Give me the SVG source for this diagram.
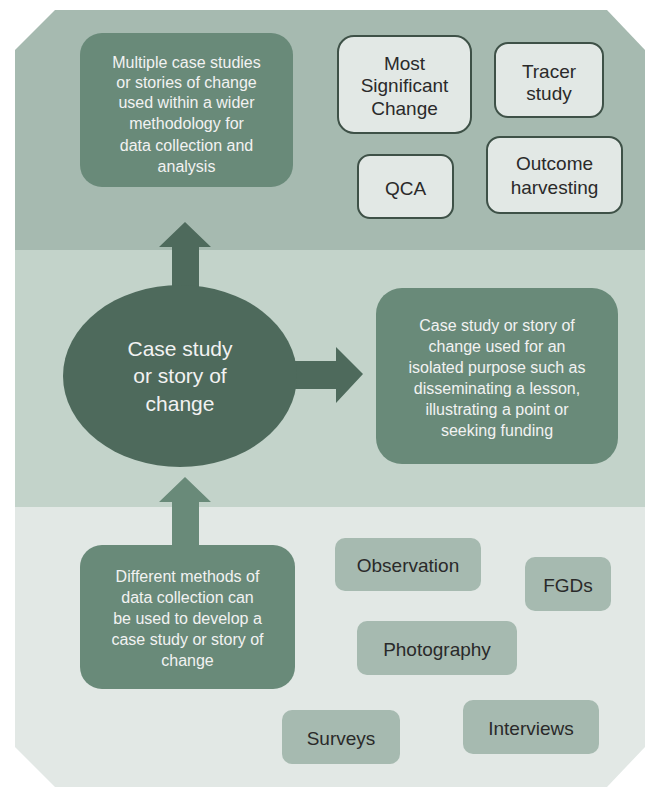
<svg xmlns="http://www.w3.org/2000/svg" width="650" height="787" viewBox="0 0 650 787">
<style>
.band-top{fill:#a6bab0}
.band-mid{fill:#c3d3ca}
.band-bot{fill:#e2e8e5}
.mid{fill:#698a79}
.dark{fill:#4e6a5c}
.outl{fill:#e2e8e5;stroke:#3e5147;stroke-width:2}
.grey{fill:#a6bab0}
text{font-family:"Liberation Sans",Arial,sans-serif;text-anchor:middle;dominant-baseline:central}
.wt{fill:#f2f2f2;font-size:16px}
.wbig{fill:#f2f2f2;font-size:21px}
.bt{fill:#2a2a2a;font-size:19px}
</style>
<g id="background">
<polygon class="band-top" points="55,10 607,10 645,50 645,250 15,250 15,50"/>
<rect class="band-mid" x="15" y="250" width="630" height="257"/>
<polygon class="band-bot" points="15,507 645,507 645,747 607,787 55,787 15,747"/>
</g>
<g id="connectors">
<polygon class="dark" points="172,290 172,247 159,247 185,222 211,247 199,247 199,290"/>
<polygon class="dark" points="290,361 336,361 336,347 363,374 336,403 336,389 290,389"/>
<polygon class="mid" points="172,548 172,502 159,502 185,477 211,502 199,502 199,548"/>
</g>
<g id="node-multiple">
<rect class="mid" x="80" y="33" width="213" height="154" rx="22"/>
<text class="wt"><tspan x="186.5" y="62">Multiple case studies</tspan><tspan x="186.5" y="82">or stories of change</tspan><tspan x="186.5" y="102">used within a wider</tspan><tspan x="186.5" y="123">methodology for</tspan><tspan x="186.5" y="145">data collection and</tspan><tspan x="186.5" y="166">analysis</tspan></text>
</g>
<g id="node-msc">
<rect class="outl" x="338" y="36" width="133" height="97" rx="16"/>
<text class="bt"><tspan x="404.5" y="63">Most</tspan><tspan x="404.5" y="85">Significant</tspan><tspan x="404.5" y="108">Change</tspan></text>
</g>
<g id="node-tracer">
<rect class="outl" x="495" y="43" width="108" height="74" rx="13"/>
<text class="bt"><tspan x="549" y="71">Tracer</tspan><tspan x="549" y="93">study</tspan></text>
</g>
<g id="node-qca">
<rect class="outl" x="358" y="155" width="95" height="63" rx="12"/>
<text class="bt" x="405.5" y="188">QCA</text>
</g>
<g id="node-outcome">
<rect class="outl" x="487" y="137" width="135" height="76" rx="13"/>
<text class="bt"><tspan x="554.5" y="163">Outcome</tspan><tspan x="554.5" y="187">harvesting</tspan></text>
</g>
<g id="node-case">
<ellipse class="dark" cx="180" cy="376" rx="117" ry="91"/>
<text class="wbig"><tspan x="180" y="348">Case study</tspan><tspan x="180" y="375">or story of</tspan><tspan x="180" y="403">change</tspan></text>
</g>
<g id="node-isolated">
<rect class="mid" x="376" y="288" width="242" height="176" rx="26"/>
<text class="wt"><tspan x="497" y="325">Case study or story of</tspan><tspan x="497" y="346">change used for an</tspan><tspan x="497" y="367">isolated purpose such as</tspan><tspan x="497" y="388">disseminating a lesson,</tspan><tspan x="497" y="409">illustrating a point or</tspan><tspan x="497" y="430">seeking funding</tspan></text>
</g>
<g id="node-different">
<rect class="mid" x="80" y="545" width="215" height="144" rx="22"/>
<text class="wt"><tspan x="187.5" y="576">Different methods of</tspan><tspan x="187.5" y="597">data collection can</tspan><tspan x="187.5" y="618">be used to develop a</tspan><tspan x="187.5" y="639">case study or story of</tspan><tspan x="187.5" y="660">change</tspan></text>
</g>
<g id="node-observation">
<rect class="grey" x="335" y="538" width="146" height="53" rx="10"/>
<text class="bt" x="408" y="565">Observation</text>
</g>
<g id="node-fgds">
<rect class="grey" x="525" y="557" width="86" height="54" rx="10"/>
<text class="bt" x="568" y="585">FGDs</text>
</g>
<g id="node-photography">
<rect class="grey" x="357" y="621" width="160" height="54" rx="10"/>
<text class="bt" x="437" y="649">Photography</text>
</g>
<g id="node-interviews">
<rect class="grey" x="463" y="700" width="136" height="54" rx="10"/>
<text class="bt" x="531" y="728">Interviews</text>
</g>
<g id="node-surveys">
<rect class="grey" x="282" y="710" width="118" height="54" rx="10"/>
<text class="bt" x="341" y="738">Surveys</text>
</g>
</svg>
